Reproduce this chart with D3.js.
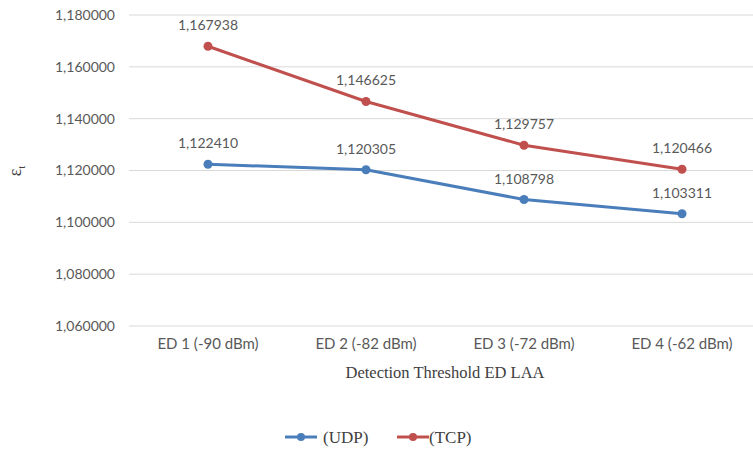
<!DOCTYPE html>
<html>
<head>
<meta charset="utf-8">
<script src="https://cdn.jsdelivr.net/npm/d3@7"></script>
<style>
  html, body { margin: 0; padding: 0; background: #fff; }
  svg { display: block; }
</style>
</head>
<body>
<svg id="chart" width="753" height="449"></svg>
<script>
// Detection thresholds (x categories)
const categories = ["ED 1 (-90 dBm)", "ED 2 (-82 dBm)", "ED 3 (-72 dBm)", "ED 4 (-62 dBm)"];
// Series values
const udpValues = [1.122410, 1.120305, 1.108798, 1.103311];
const tcpValues = [1.167938, 1.146625, 1.129757, 1.120466];
// Y axis ticks
const yTicks = [1.06, 1.08, 1.10, 1.12, 1.14, 1.16, 1.18];
const seriesNames = ["(UDP)", "(TCP)"];

const series = [
  { name: seriesNames[0], values: udpValues, color: "#4a7ebb" },
  { name: seriesNames[1], values: tcpValues, color: "#c0504d" }
];

const svg = d3.select("#chart");
const plotLeft = 129, plotRight = 761, plotTop = 15, plotBottom = 326;

const x = d3.scaleBand().domain(categories).range([plotLeft, plotRight]);
const y = d3.scaleLinear().domain([1.06, 1.18]).range([plotBottom, plotTop]);

const fmt = v => { const s = v.toFixed(6).split("."); return s[0] + "," + s[1]; };

// Gridlines
svg.append("g")
  .selectAll("line")
  .data(yTicks)
  .join("line")
  .attr("x1", plotLeft).attr("x2", 753)
  .attr("y1", d => y(d)).attr("y2", d => y(d))
  .attr("stroke", "#d9d9d9").attr("stroke-width", 1);

// Y axis tick labels
const yAxis = d3.axisLeft(y).tickValues(yTicks).tickFormat(fmt).tickSize(0).tickPadding(14);
const gy = svg.append("g").attr("transform", `translate(${plotLeft},0)`).call(yAxis);
gy.select(".domain").remove();
gy.selectAll("text")
  .attr("fill", "#595959")
  .style("font-family", "Lato, 'Open Sans', sans-serif")
  .style("font-size", "14px");

// X axis category labels
const xAxis = d3.axisBottom(x).tickSize(0).tickPadding(12);
const gx = svg.append("g").attr("transform", `translate(0,${plotBottom})`).call(xAxis);
gx.select(".domain").remove();
gx.selectAll("text")
  .attr("fill", "#595959")
  .style("font-family", "Lato, 'Open Sans', sans-serif")
  .style("font-size", "15px");

// Axis titles
svg.append("text")
  .attr("x", (plotLeft + plotRight) / 2).attr("y", 378)
  .attr("text-anchor", "middle")
  .attr("fill", "#404040")
  .style("font-family", "'Liberation Serif', 'Times New Roman', serif")
  .style("font-size", "16.5px")
  .text("Detection Threshold ED LAA");

const yt = svg.append("text")
  .attr("transform", "translate(21,171) rotate(-90)")
  .attr("text-anchor", "middle")
  .attr("fill", "#404040")
  .style("font-family", "'Liberation Serif', 'Times New Roman', serif")
  .style("font-size", "18px");
yt.append("tspan").text("ε");
yt.append("tspan").attr("dy", 4).style("font-size", "11px").text("t");

// Lines, markers and value labels
const line = d3.line()
  .x((d, i) => x(categories[i]) + x.bandwidth() / 2)
  .y(d => y(d));

series.forEach(s => {
  const g = svg.append("g");
  g.append("path")
    .datum(s.values)
    .attr("d", line)
    .attr("fill", "none")
    .attr("stroke", s.color)
    .attr("stroke-width", 3)
    .attr("stroke-linejoin", "round");
  g.selectAll("circle")
    .data(s.values)
    .join("circle")
    .attr("cx", (d, i) => x(categories[i]) + x.bandwidth() / 2)
    .attr("cy", d => y(d))
    .attr("r", 4.5)
    .attr("fill", s.color);
  g.selectAll("text")
    .data(s.values)
    .join("text")
    .attr("x", (d, i) => x(categories[i]) + x.bandwidth() / 2)
    .attr("y", d => y(d) - 16)
    .attr("text-anchor", "middle")
    .attr("fill", "#595959")
    .style("font-family", "Lato, 'Open Sans', sans-serif")
    .style("font-size", "14px")
    .text(d => fmt(d));
});

// Legend
const legendItems = [
  { s: series[0], lx: 285, tx: 323 },
  { s: series[1], lx: 397, tx: 429 }
];
const lg = svg.append("g");
legendItems.forEach(item => {
  lg.append("line")
    .attr("x1", item.lx).attr("x2", item.lx + 32)
    .attr("y1", 437).attr("y2", 437)
    .attr("stroke", item.s.color).attr("stroke-width", 3);
  lg.append("circle")
    .attr("cx", item.lx + 16).attr("cy", 437).attr("r", 4)
    .attr("fill", item.s.color);
  lg.append("text")
    .attr("x", item.tx).attr("y", 443)
    .attr("fill", "#404040")
    .style("font-family", "'Liberation Serif', 'Times New Roman', serif")
    .style("font-size", "17px")
    .text(item.s.name);
});
</script>
</body>
</html>
